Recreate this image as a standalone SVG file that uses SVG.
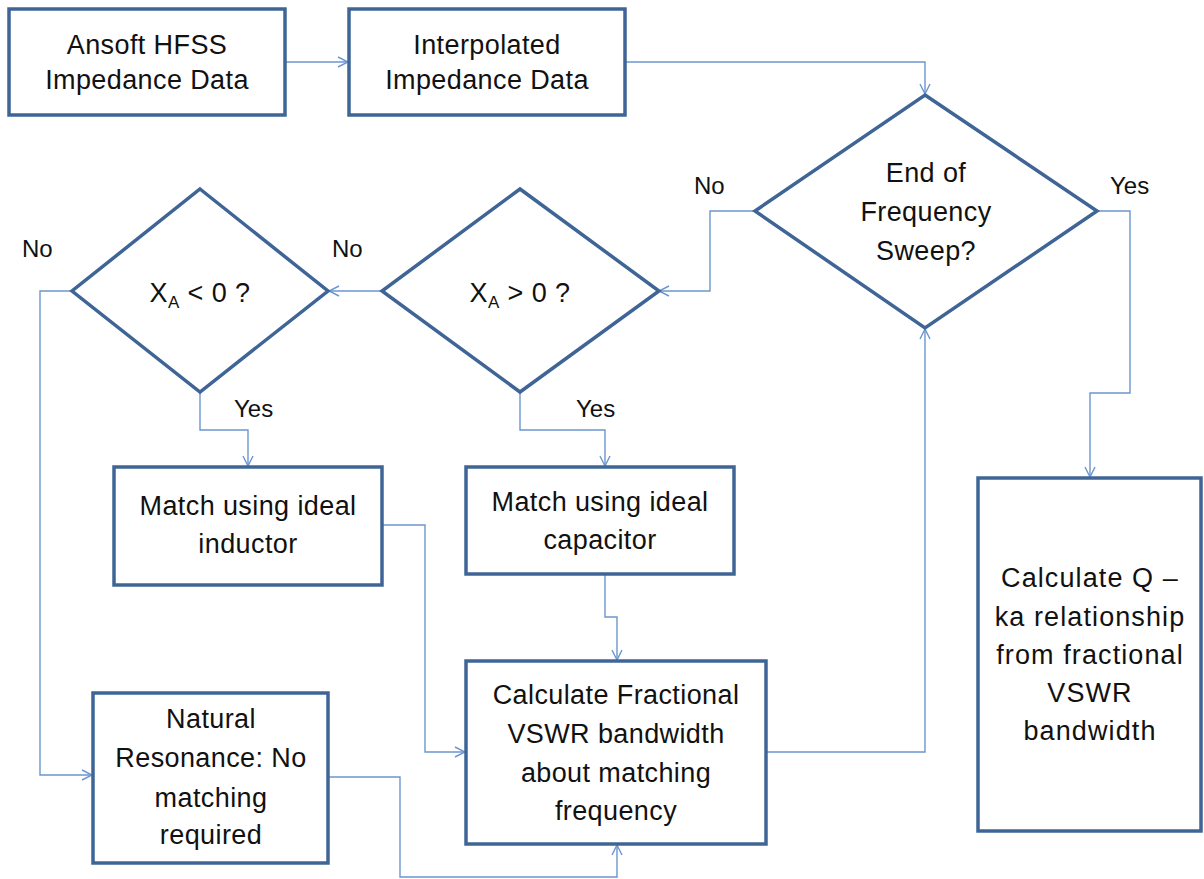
<svg xmlns="http://www.w3.org/2000/svg" width="1204" height="879" viewBox="0 0 1204 879">
<style>
.box{fill:#fff;stroke:#3f6596;stroke-width:3.5}
.t{font-family:"Liberation Sans",Arial,sans-serif;font-size:27px;fill:#111;text-anchor:middle;letter-spacing:0.4px}
.lbl{font-family:"Liberation Sans",Arial,sans-serif;font-size:24px;fill:#111}
.c{fill:none;stroke:#6b96cf;stroke-width:1.4}
.wide{letter-spacing:1.1px}
</style>
<defs>
<marker id="ah" viewBox="0 0 12 12" refX="11" refY="6" markerWidth="12" markerHeight="12" markerUnits="userSpaceOnUse" orient="auto">
<path d="M1,1 L11,6 L1,11" fill="none" stroke="#6b96cf" stroke-width="1.4"/>
</marker>
</defs>
<rect width="1204" height="879" fill="#fff"/>
<g id="connectors">
<path class="c" d="M285,62 H348" marker-end="url(#ah)"/>
<path class="c" d="M625,62 H925 V94" marker-end="url(#ah)"/>
<path class="c" d="M755,211 H710 V291 H659" marker-end="url(#ah)"/>
<path class="c" d="M382,291 H329" marker-end="url(#ah)"/>
<path class="c" d="M72,291 H40 V775 H92" marker-end="url(#ah)"/>
<path class="c" d="M200,392 V430 H248 V466" marker-end="url(#ah)"/>
<path class="c" d="M520,392 V430 H605 V466" marker-end="url(#ah)"/>
<path class="c" d="M605,574 V617 H617 V660" marker-end="url(#ah)"/>
<path class="c" d="M382,525 H425 V752 H465" marker-end="url(#ah)"/>
<path class="c" d="M328,777 H400 V877 H617 V845" marker-end="url(#ah)"/>
<path class="c" d="M766,752 H925 V329" marker-end="url(#ah)"/>
<path class="c" d="M1097,211 H1130 V393 H1090 V477" marker-end="url(#ah)"/>
<text class="lbl" x="694" y="194">No</text>
<text class="lbl" x="1110" y="194">Yes</text>
<text class="lbl" x="332" y="257">No</text>
<text class="lbl" x="22" y="257">No</text>
<text class="lbl" x="234" y="417">Yes</text>
<text class="lbl" x="576" y="417">Yes</text>
</g>
<g id="n-ansoft">
<rect class="box" x="9" y="9" width="276" height="106"/>
<text class="t" x="147" y="54">Ansoft HFSS</text>
<text class="t" x="147" y="89">Impedance Data</text>
</g>
<g id="n-interp">
<rect class="box" x="349" y="9" width="276" height="106"/>
<text class="t" x="487" y="54">Interpolated</text>
<text class="t" x="487" y="89">Impedance Data</text>
</g>
<g id="n-endsweep">
<polygon class="box" points="925,95 1097,211 925,328 755,211"/>
<text class="t" x="926" y="182">End of</text>
<text class="t" x="926" y="221">Frequency</text>
<text class="t" x="926" y="260">Sweep?</text>
</g>
<g id="n-xagt">
<polygon class="box" points="520,189 659,291 520,392 382,291"/>
<text class="t" x="520" y="302">X<tspan font-size="17" dy="6">A</tspan><tspan dy="-6"> &gt; 0 ?</tspan></text>
</g>
<g id="n-xalt">
<polygon class="box" points="200,189 328,291 200,392 72,291"/>
<text class="t" x="200" y="302">X<tspan font-size="17" dy="6">A</tspan><tspan dy="-6"> &lt; 0 ?</tspan></text>
</g>
<g id="n-inductor">
<rect class="box" x="114" y="467" width="268" height="118"/>
<text class="t" x="248" y="515">Match using ideal</text>
<text class="t" x="248" y="553">inductor</text>
</g>
<g id="n-capacitor">
<rect class="box" x="466" y="467" width="268" height="107"/>
<text class="t" x="600" y="511">Match using ideal</text>
<text class="t" x="600" y="549">capacitor</text>
</g>
<g id="n-fractional">
<rect class="box" x="466" y="661" width="300" height="183"/>
<text class="t" x="616" y="704">Calculate Fractional</text>
<text class="t" x="616" y="743">VSWR bandwidth</text>
<text class="t" x="616" y="782">about matching</text>
<text class="t" x="616" y="820">frequency</text>
</g>
<g id="n-natural">
<rect class="box" x="93" y="693" width="235" height="170"/>
<text class="t" x="211" y="728">Natural</text>
<text class="t" x="211" y="767">Resonance: No</text>
<text class="t" x="211" y="807">matching</text>
<text class="t" x="211" y="844">required</text>
</g>
<g id="n-q">
<rect class="box" x="978" y="478" width="223" height="353"/>
<text class="t wide" x="1090" y="587">Calculate Q –</text>
<text class="t wide" x="1090" y="626">ka relationship</text>
<text class="t wide" x="1090" y="664">from fractional</text>
<text class="t wide" x="1090" y="702">VSWR</text>
<text class="t wide" x="1090" y="740">bandwidth</text>
</g>
</svg>
